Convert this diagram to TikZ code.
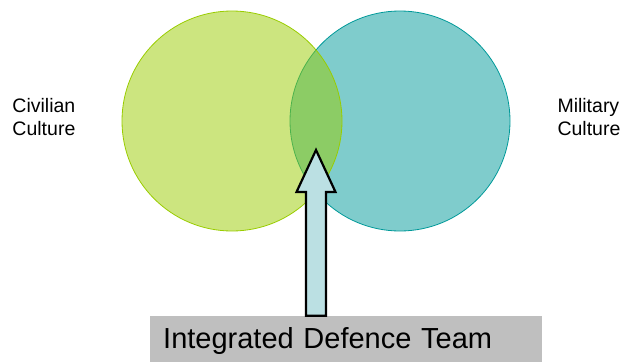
\documentclass[tikz,border=0pt]{standalone}
\usepackage{fontspec}
\setmainfont{Liberation Sans}
\usetikzlibrary{calc}
\definecolor{civgreen}{HTML}{99CC00}
\definecolor{milteal}{HTML}{009999}
\definecolor{arrowblue}{HTML}{BBE0E3}
\definecolor{teamgray}{HTML}{BFBFBF}
\newcommand{\pxunit}{1pt}
\newcommand{\culturecircle}[3]{
	\fill[#3, fill opacity=0.5] (#1) circle (#2);
	\draw[#3, line width=0.8] (#1) circle (#2);
}
\newcommand{\blockarrow}[2]{
	\draw[line width=2.2, line join=miter, fill=arrowblue]
		($(#1)+(-10,0)$) -- ($(#2)+(-10,42)$) -- ($(#2)+(-19.5,42)$) -- (#2)
		-- ($(#2)+(19.5,42)$) -- ($(#2)+(10,42)$) -- ($(#1)+(10,0)$) -- cycle;
}

\begin{document}
\begin{tikzpicture}[x=\pxunit,y=-\pxunit,
	culture/.style={align=left, inner sep=0, font=\fontsize{19.5}{22.7}\selectfont},
	teambox/.style={fill=teamgray, minimum width=391.7, minimum height=46.3,
		text width=365.7, align=left, inner xsep=13, inner ysep=0,
		text height=22, text depth=3, font=\fontsize{29}{34}\selectfont}]
	\useasboundingbox (0,0) rectangle (623,362);
	\coordinate (civ) at (232,121);
	\coordinate (mil) at (400,121);

	\culturecircle{mil}{110}{milteal}
	\culturecircle{civ}{110}{civgreen}

	\node[culture, anchor=north west] (civlabel) at (12.3,98.3) {Civilian\\Culture};
	\node[culture, anchor=north west] (millabel) at (557.3,98.3) {Military\\Culture};

	\node[teambox, anchor=north west] (team) at (150,315.7) {Integrated Defence Team};
	\coordinate (overlap) at (316,150);
	\coordinate (foot) at (team.north -| overlap);
	\blockarrow{foot}{overlap}

\end{tikzpicture}
\end{document}
